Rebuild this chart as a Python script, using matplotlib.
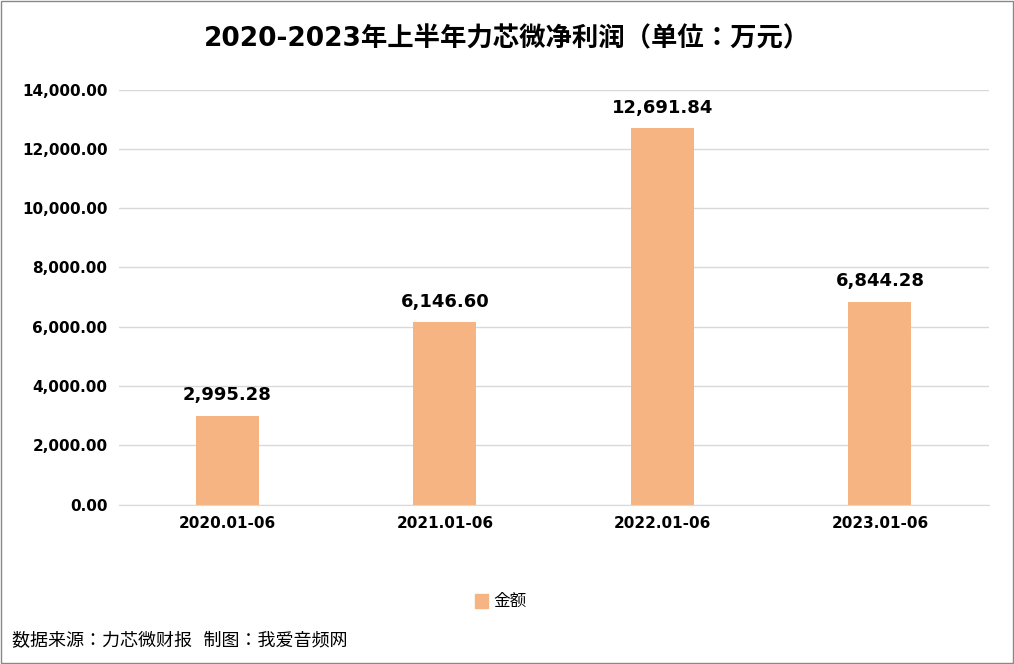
import matplotlib
matplotlib.use("Agg")
import matplotlib.pyplot as plt

categories = ["2020.01-06", "2021.01-06", "2022.01-06", "2023.01-06"]
values = [2995.28, 6146.60, 12691.84, 6844.28]
yticks = [0, 2000, 4000, 6000, 8000, 10000, 12000, 14000]

plt.rcParams["font.family"] = ["DejaVu Sans", "Noto Sans CJK JP", "Noto Sans CJK SC", "Noto Sans CJK TC", "Noto Sans CJK KR"]
fig = plt.figure(figsize=(10.14, 6.64), dpi=100)
ax = fig.add_axes([0.117, 0.24, 0.858, 0.625])
color = "#F5B482"
ax.bar(range(len(categories)), values, width=0.29, color=color, zorder=2)
for i, v in enumerate(values):
    ax.text(i, v + 400, f"{v:,.2f}", ha="center", va="bottom", fontsize=13, fontweight="bold")
ax.set_xlim(-0.5, 3.5)
ax.set_ylim(0, 14000)
ax.set_yticks(yticks)
ax.set_yticklabels([f"{t:,.2f}" for t in yticks], fontsize=11, fontweight="bold")
ax.set_xticks(range(len(categories)))
ax.set_xticklabels(categories, fontsize=11, fontweight="bold")
ax.grid(axis="y", color="#D9D9D9", lw=1, zorder=0)
for s in ["top", "right", "left"]:
    ax.spines[s].set_visible(False)
ax.spines["bottom"].set_color("#D9D9D9")
ax.tick_params(length=0, pad=8)
fig.text(0.5, 0.94, "2020-2023年上半年力芯微净利润（单位：万元）", ha="center", va="center", fontsize=19, fontweight="bold")
fig.patches.append(plt.Rectangle((0.468, 0.085), 0.013, 0.02, transform=fig.transFigure, color=color))
fig.text(0.487, 0.095, "金额", fontsize=12, va="center")
fig.text(0.012, 0.035, "数据来源：力芯微财报  制图：我爱音频网", fontsize=13, va="center")
fig.patches.append(plt.Rectangle((0.001, 0.001), 0.998, 0.998, transform=fig.transFigure, fill=False, ec="#888888", lw=1))
fig.savefig("out.png")
